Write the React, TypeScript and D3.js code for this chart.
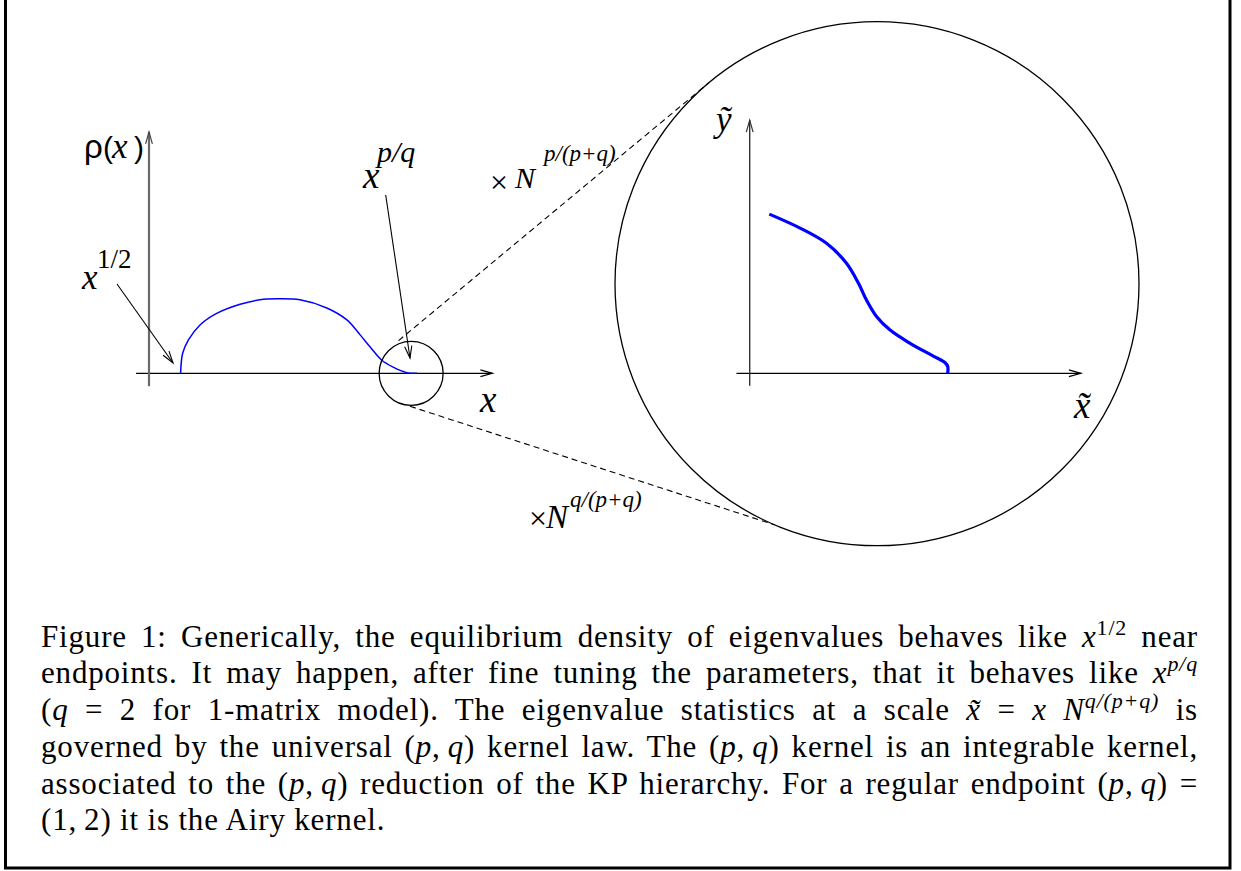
import { useEffect, useRef } from "react";
import * as d3 from "d3";

// equilibrium density rho(x) (arbitrary units)
const rhoX = [0.93, 0.99, 1.16, 1.5, 1.99, 2.68, 3.26, 3.76, 4.44, 5.23, 5.82, 6.21, 6.5, 6.84, 7.18, 7.58, 7.88];
const rhoY = [0, 0.59, 0.98, 1.42, 1.76, 2.03, 2.16, 2.19, 2.16, 1.92, 1.57, 1.13, 0.78, 0.39, 0.18, 0.02, 0];

// zoomed edge behaviour, y~ against x~
const edgeX = [0.49, 1.26, 1.92, 2.42, 2.72, 2.92, 3.17, 3.51, 4.01, 4.59, 4.88, 4.95, 4.95];
const edgeY = [3.98, 3.63, 3.25, 2.75, 2.25, 1.83, 1.42, 1.08, 0.75, 0.43, 0.27, 0.17, 0];

// where the density touches zero on the right (centre of the small circle)
const edgePoint = 7.71;

type Seg = { t: string; k?: "i" | "sup" | "supi" };

const TS = "\u2009";
const captionLines: Seg[][] = [
  [
    { t: "Figure 1: Generically, the equilibrium density of eigenvalues behaves like " },
    { t: "x", k: "i" },
    { t: "1/2", k: "sup" },
    { t: " near" },
  ],
  [
    { t: "endpoints. It may happen, after fine tuning the parameters, that it behaves like " },
    { t: "x", k: "i" },
    { t: "p/q", k: "supi" },
  ],
  [
    { t: "(" },
    { t: "q", k: "i" },
    { t: " = 2 for 1-matrix model). The eigenvalue statistics at a scale " },
    { t: "x\u0303", k: "i" },
    { t: " = " },
    { t: "x N", k: "i" },
    { t: "q/(p+q)", k: "supi" },
    { t: " is" },
  ],
  [
    { t: "governed by the universal (" },
    { t: "p", k: "i" },
    { t: "," + TS },
    { t: "q", k: "i" },
    { t: ") kernel law. The (" },
    { t: "p", k: "i" },
    { t: "," + TS },
    { t: "q", k: "i" },
    { t: ") kernel is an integrable kernel," },
  ],
  [
    { t: "associated to the (" },
    { t: "p", k: "i" },
    { t: "," + TS },
    { t: "q", k: "i" },
    { t: ") reduction of the KP hierarchy. For a regular endpoint (" },
    { t: "p", k: "i" },
    { t: "," + TS },
    { t: "q", k: "i" },
    { t: ") =" },
  ],
  [{ t: "(1," + TS + "2) it is the Airy kernel." }],
];

const W = 1241;
const H = 871;
const SERIF = "Liberation Serif, Times New Roman, serif";
const SANS = "Liberation Sans, Arial, sans-serif";
const CAP_LEFT = 41;
const CAP_RIGHT = 1198;
const CAP_TOP = 646.7;
const CAP_STEP = 36.7;
const CAP_SIZE = 31;

function arrowHead(tx: number, ty: number, fx: number, fy: number, len = 12, half = 3.4) {
  const dx = tx - fx;
  const dy = ty - fy;
  const L = Math.hypot(dx, dy);
  const ux = dx / L;
  const uy = dy / L;
  const bx = tx - ux * len;
  const by = ty - uy * len;
  return `M${bx - uy * half},${by + ux * half}L${tx},${ty}L${bx + uy * half},${by - ux * half}`;
}

function onCircle(cx: number, cy: number, r: number, deg: number): [number, number] {
  const a = (deg * Math.PI) / 180;
  return [cx + r * Math.cos(a), cy + r * Math.sin(a)];
}

export default function App() {
  const capRefs = useRef<(SVGTextElement | null)[]>([]);

  useEffect(() => {
    const els = capRefs.current;
    const target = CAP_RIGHT - CAP_LEFT;
    const full = captionLines.map((l) => l.map((s) => s.t).join(""));
    // part of the slack over letters (CM is wider than Times), the rest over spaces
    let ls = 0;
    let n = 0;
    for (let i = 0; i < captionLines.length - 1; i++) {
      const el = els[i];
      if (!el) continue;
      ls += ((target - el.getComputedTextLength()) * 0.5) / full[i].length;
      n++;
    }
    ls = n ? Math.max(-0.5, Math.min(1.5, ls / n)) : 0;
    els.forEach((el) => el && el.setAttribute("letter-spacing", String(ls)));
    for (let i = 0; i < captionLines.length - 1; i++) {
      const el = els[i];
      if (!el) continue;
      const spaces = (full[i].match(/ /g) || []).length;
      const ws = (target - el.getComputedTextLength()) / Math.max(spaces, 1);
      el.setAttribute("word-spacing", String(ws));
    }
  }, []);

  // left plot: density near an endpoint
  const xL = d3.scaleLinear().domain([0, 10]).range([149, 489]);
  const yL = d3.scaleLinear().domain([0, 7]).range([373.3, 135.3]);
  // zoomed plot inside the big circle
  const xR = d3.scaleLinear().domain([0, 8]).range([749.7, 1069.7]);
  const yR = d3.scaleLinear().domain([0, 6]).range([373.3, 133.3]);

  const curve = (xs: number[], ys: number[], sx: d3.ScaleLinear<number, number>, sy: d3.ScaleLinear<number, number>) =>
    d3
      .line<number>()
      .x((i) => sx(xs[i]))
      .y((i) => sy(ys[i]))
      .curve(d3.curveCatmullRom.alpha(0.5))(d3.range(xs.length)) || "";

  const small = { cx: xL(edgePoint), cy: yL(0), r: 32 };
  const big = { cx: 877, cy: 283.7, r: 262 };

  const up1 = onCircle(small.cx, small.cy, small.r + 3, -111);
  const up2 = onCircle(big.cx, big.cy, big.r, -130);
  const lo1 = onCircle(small.cx, small.cy, small.r + 1, 92);
  const lo2 = onCircle(big.cx, big.cy, big.r, 113);

  const lx0 = xL(-0.38), lx1 = xL(10.1), ly0 = yL(-0.38), ly1 = yL(7.1);
  const rx0 = xR(-0.33), rx1 = xR(8.28), ry0 = yR(-0.31), ry1 = yR(6.33);

  const ann1 = { fx: 117, fy: 284, tx: 173, ty: 363 };
  const ann2 = { fx: 385.7, fy: 195, tx: 410, ty: 358 };

  const renderLine = (segs: Seg[], i: number) => {
    let shift = 0;
    return (
      <text
        key={i}
        ref={(el) => {
          capRefs.current[i] = el;
        }}
        x={CAP_LEFT}
        y={CAP_TOP + i * CAP_STEP}
        fontFamily={SERIF}
        fontSize={CAP_SIZE}
        fill="#000"
      >
        {segs.map((s, j) => {
          const isSup = s.k === "sup" || s.k === "supi";
          const want = isSup ? -12 : 0;
          const dy = want - shift;
          shift = want;
          return (
            <tspan
              key={j}
              dy={dy || undefined}
              fontStyle={s.k === "i" || s.k === "supi" ? "italic" : undefined}
              fontSize={isSup ? 22 : undefined}
            >
              {s.t}
            </tspan>
          );
        })}
      </text>
    );
  };

  return (
    <svg width={W} height={H} style={{ position: "absolute", left: 0, top: 0, background: "#fff" }}>
      {/* frame */}
      <rect x={5.5} y={-10} width={1224.5} height={878} fill="none" stroke="#000" strokeWidth={3} />

      {/* left plot axes */}
      <line x1={lx0} x2={lx1} y1={yL(0)} y2={yL(0)} stroke="#000" strokeWidth={1.3} />
      <path d={arrowHead(lx1, yL(0), lx0, yL(0))} fill="none" stroke="#000" strokeWidth={1.2} />
      <line x1={xL(0)} x2={xL(0)} y1={ly0} y2={ly1} stroke="#6a6a6a" strokeWidth={2.2} />
      <path d={arrowHead(xL(0), ly1, xL(0), ly0)} fill="none" stroke="#444" strokeWidth={1.2} />

      {/* density */}
      <path d={curve(rhoX, rhoY, xL, yL)} fill="none" stroke="#0000ff" strokeWidth={1.5} />

      {/* small circle + zoom lines */}
      <circle cx={small.cx} cy={small.cy} r={small.r} fill="none" stroke="#000" strokeWidth={1.3} />
      <line x1={up1[0]} y1={up1[1]} x2={up2[0]} y2={up2[1]} stroke="#000" strokeWidth={1.1} strokeDasharray="6,4" />
      <line x1={lo1[0]} y1={lo1[1]} x2={lo2[0]} y2={lo2[1]} stroke="#000" strokeWidth={1.1} strokeDasharray="6,4" />

      {/* annotation arrows */}
      <line x1={ann1.fx} y1={ann1.fy} x2={ann1.tx} y2={ann1.ty} stroke="#000" strokeWidth={1.1} />
      <path d={arrowHead(ann1.tx, ann1.ty, ann1.fx, ann1.fy, 12, 3.6)} fill="none" stroke="#000" strokeWidth={1.1} />
      <line x1={ann2.fx} y1={ann2.fy} x2={ann2.tx} y2={ann2.ty} stroke="#000" strokeWidth={1.1} />
      <path d={arrowHead(ann2.tx, ann2.ty, ann2.fx, ann2.fy, 12, 3.6)} fill="none" stroke="#000" strokeWidth={1.1} />

      {/* left labels */}
      <text x={84} y={158} fontFamily={SANS} fontSize={33}>ρ</text>
      <text x={103} y={158} fontFamily={SANS} fontSize={30}>(</text>
      <text x={112} y={158} fontFamily={SERIF} fontStyle="italic" fontSize={35}>x</text>
      <text x={134} y={158} fontFamily={SANS} fontSize={30}>)</text>
      <text x={82} y={289} fontFamily={SERIF} fontStyle="italic" fontSize={35}>x</text>
      <text x={97} y={268} fontFamily={SERIF} fontSize={27}>1/2</text>
      <text x={363} y={188} fontFamily={SERIF} fontStyle="italic" fontSize={37}>x</text>
      <text x={377} y={162} fontFamily={SERIF} fontStyle="italic" fontSize={30}>p/q</text>
      <text x={480} y={412} fontFamily={SERIF} fontStyle="italic" fontSize={37}>x</text>

      <text x={490} y={193} fontFamily={SERIF} fontSize={32}>×</text>
      <text x={515} y={188} fontFamily={SERIF} fontStyle="italic" fontSize={30}>N</text>
      <text x={544} y={161} fontFamily={SERIF} fontStyle="italic" fontSize={23}>p/(p+q)</text>

      <text x={529} y={529} fontFamily={SERIF} fontSize={32}>×</text>
      <text x={546} y={528} fontFamily={SERIF} fontStyle="italic" fontSize={33}>N</text>
      <text x={570} y={507} fontFamily={SERIF} fontStyle="italic" fontSize={23}>q/(p+q)</text>

      {/* big circle */}
      <circle cx={big.cx} cy={big.cy} r={big.r} fill="none" stroke="#000" strokeWidth={1.3} />

      {/* zoomed axes */}
      <line x1={rx0} x2={rx1} y1={yR(0)} y2={yR(0)} stroke="#000" strokeWidth={1.3} />
      <path d={arrowHead(rx1, yR(0), rx0, yR(0))} fill="none" stroke="#000" strokeWidth={1.2} />
      <line x1={xR(0)} x2={xR(0)} y1={ry0} y2={ry1} stroke="#333" strokeWidth={1.4} />
      <path d={arrowHead(xR(0), ry1, xR(0), ry0)} fill="none" stroke="#333" strokeWidth={1.2} />

      <path d={curve(edgeX, edgeY, xR, yR)} fill="none" stroke="#0000ff" strokeWidth={3.2} />

      <text x={716} y={131} fontFamily={SERIF} fontStyle="italic" fontSize={35}>ỹ</text>
      <text x={1074} y={418} fontFamily={SERIF} fontStyle="italic" fontSize={37}>x̃</text>

      {/* caption */}
      {captionLines.map(renderLine)}
    </svg>
  );
}
